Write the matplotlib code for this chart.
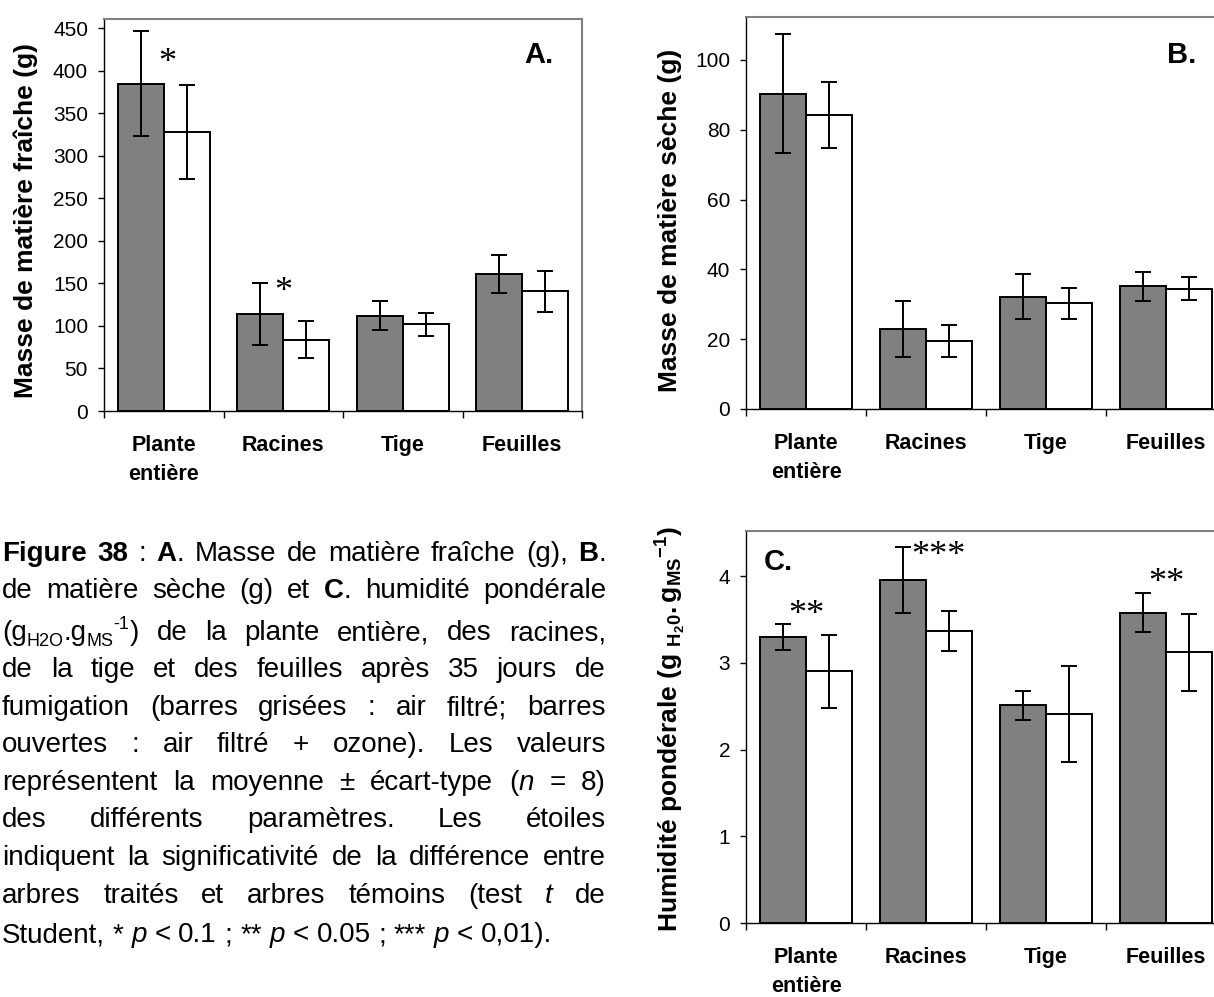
import re
import numpy as np
import matplotlib
matplotlib.use('Agg')
import matplotlib.pyplot as plt
import matplotlib.transforms as mtransforms

plt.rcParams['font.family'] = ['Liberation Sans', 'DejaVu Sans']
plt.rcParams['mathtext.fontset'] = 'custom'
plt.rcParams['mathtext.rm'] = 'Liberation Sans'
plt.rcParams['mathtext.bf'] = 'Liberation Sans:bold'
plt.rcParams['mathtext.it'] = 'Liberation Sans:italic'

# ---- data ----
categories = ['Plante\nentière', 'Racines', 'Tige', 'Feuilles']

fresh_filtered = [385, 114, 112, 161]
fresh_filtered_sd = [62, 36, 17, 22.5]
fresh_ozone = [328, 84, 102, 141]
fresh_ozone_sd = [55, 22, 13.5, 24]
fresh_stars = ['*', '*', '', '']
fresh_star_y = [421, 152, 0, 0]

dry_filtered = [90.3, 23.0, 32.2, 35.1]
dry_filtered_sd = [17, 8, 6.4, 4.2]
dry_ozone = [84.3, 19.4, 30.3, 34.5]
dry_ozone_sd = [9.5, 4.6, 4.5, 3.2]

hum_filtered = [3.30, 3.95, 2.51, 3.58]
hum_filtered_sd = [0.15, 0.38, 0.17, 0.22]
hum_ozone = [2.90, 3.37, 2.41, 3.12]
hum_ozone_sd = [0.42, 0.23, 0.55, 0.44]
hum_stars = ['**', '***', '', '**']
hum_star_y = [3.66, 4.35, 0, 4.03]

caption = [
    "{b:Figure} {b:38} : {b:A}. Masse de matière fraîche (g), {b:B}.",
    "de matière sèche (g) et {b:C}. humidité pondérale",
    "(g{sub:H2O}.g{sub:MS}{sup:-1}) de la plante entière, des racines,",
    "de la tige et des feuilles après 35 jours de",
    "fumigation (barres grisées : air filtré; barres",
    "ouvertes : air filtré + ozone). Les valeurs",
    "représentent la moyenne ± écart-type ({i:n} = 8)",
    "des différents paramètres. Les étoiles",
    "indiquent la significativité de la différence entre",
    "arbres traités et arbres témoins (test {i:t} de",
    "Student, * {i:p} < 0.1 ; ** {i:p} < 0.05 ; *** {i:p} < 0,01).",
]

W, H = 1214, 997
fig = plt.figure(figsize=(W / 100, H / 100), dpi=100)


def px_axes(left, top, width, height):
    return fig.add_axes([left / W, 1 - (top + height) / H, width / W, height / H])


x = np.arange(len(categories))
bw = 0.385
STAR_PT = 26


def panel(ax, g, gsd, o, osd, ymax, yticks, ylabel, ylab_xy, tag, tag_xy,
          stars=None, star_y=None, star_dx=None):
    ax.bar(x - bw / 2, g, bw, color='#808080', edgecolor='black', linewidth=1.4, zorder=2)
    ax.bar(x + bw / 2, o, bw, color='white', edgecolor='black', linewidth=1.4, zorder=2)
    for xs, v, e in ((x - bw / 2, g, gsd), (x + bw / 2, o, osd)):
        ax.errorbar(xs, v, yerr=e, fmt='none', ecolor='black', elinewidth=1.4,
                    capsize=5.5, capthick=1.4, zorder=3)
    ax.set_xlim(-0.5, len(categories) - 0.5)
    ax.set_ylim(0, ymax)
    ax.set_yticks(yticks)
    ax.set_xticks(np.arange(len(categories) + 1) - 0.5)
    ax.set_xticklabels([])
    ax.set_xticks(x, categories, minor=True)
    ax.tick_params(axis='x', which='major', direction='out', length=5, width=1)
    ax.tick_params(axis='x', which='minor', length=0, pad=17, labelsize=15.5)
    ax.tick_params(axis='y', direction='out', length=4.5, width=1, pad=7, labelsize=15)
    for lbl in ax.get_xticklabels(minor=True):
        lbl.set_fontweight('bold')
        lbl.set_linespacing(1.5)
    for s in ('top', 'right'):
        ax.spines[s].set_color('#808080')
        ax.spines[s].set_linewidth(1.5)
    for s in ('left', 'bottom'):
        ax.spines[s].set_color('black')
        ax.spines[s].set_linewidth(1.0)
    ax.set_ylabel(ylabel, fontsize=19, fontweight='bold', va='center')
    ax.yaxis.set_label_coords(*ylab_xy)
    ax.text(*tag_xy, tag, transform=ax.transAxes, fontsize=21, fontweight='bold',
            ha='center', va='center')
    if stars:
        star_tr = mtransforms.offset_copy(ax.transData, fig=fig, y=-0.52 * STAR_PT,
                                          units='points')
        for i, (s, yv) in enumerate(zip(stars, star_y)):
            if s:
                ax.text(i + star_dx[i], yv, s, transform=star_tr, fontsize=STAR_PT,
                        family='Liberation Serif', ha='center', va='baseline')


axA = px_axes(104, 19, 478, 392)
axB = px_axes(746, 17, 480, 392)
axC = px_axes(746, 531, 480, 392)

panel(axA, fresh_filtered, fresh_filtered_sd, fresh_ozone, fresh_ozone_sd,
      461, np.arange(0, 451, 50), 'Masse de matière fraîche (g)', (-0.163, 0.485),
      'A.', (0.910, 0.908), fresh_stars, fresh_star_y, [0.03, 0, 0, 0])
panel(axB, dry_filtered, dry_filtered_sd, dry_ozone, dry_ozone_sd,
      112.3, np.arange(0, 101, 20), 'Masse de matière sèche (g)', (-0.158, 0.482),
      'B.', (0.908, 0.903))
panel(axC, hum_filtered, hum_filtered_sd, hum_ozone, hum_ozone_sd,
      4.52, np.arange(0, 5, 1),
      'Humidité pondérale (g $\\mathbf{{}_{H_{2}0}.g_{MS}{}^{-1}}$)', (-0.156, 0.495),
      'C.', (0.067, 0.921), hum_stars, hum_star_y, [0, 0.1, 0, 0])

# ---- caption, justified ----
cap = fig.add_axes([0, 0, 1, 1])
cap.set_xlim(0, W)
cap.set_ylim(H, 0)
cap.set_axis_off()
renderer = fig.canvas.get_renderer()

CAP_PT = 20
CAP_PX = CAP_PT * 100 / 72
left_x, right_x = 2, 606
baselines = [561, 598, 640, 677, 715, 752, 790, 827, 865, 903, 942]


def parse(word):
    runs = []
    for m in re.finditer(r'\{(b|i|sub|sup):([^}]*)\}|([^{]+)', word):
        if m.group(3):
            runs.append(('n', m.group(3)))
        else:
            runs.append((m.group(1), m.group(2)))
    return runs


def make_run(kind, txt, y):
    kw = dict(fontsize=CAP_PT, va='baseline', ha='left')
    dy = 0
    if kind == 'b':
        kw['fontweight'] = 'bold'
    elif kind == 'i':
        kw['fontstyle'] = 'italic'
    elif kind == 'sub':
        kw['fontsize'] = CAP_PT * 0.65
        dy = 0.2 * CAP_PX
    elif kind == 'sup':
        kw['fontsize'] = CAP_PT * 0.65
        dy = -0.4 * CAP_PX
    t = cap.text(0, y + dy, txt, **kw)
    return t, t.get_window_extent(renderer).width


space_w = 0.278 * CAP_PX
for li, (line, yb) in enumerate(zip(caption, baselines)):
    words = []
    for w in line.split(' '):
        runs = [make_run(k, s, yb) for k, s in parse(w)]
        words.append((runs, sum(r[1] for r in runs)))
    total = sum(w[1] for w in words)
    if li < len(caption) - 1 and len(words) > 1:
        gap = (right_x - left_x - total) / (len(words) - 1)
    else:
        gap = space_w
    cx = left_x
    for runs, ww in words:
        for t, rw in runs:
            t.set_x(cx)
            cx += rw
        cx += gap

fig.savefig('out.png', dpi=100)
